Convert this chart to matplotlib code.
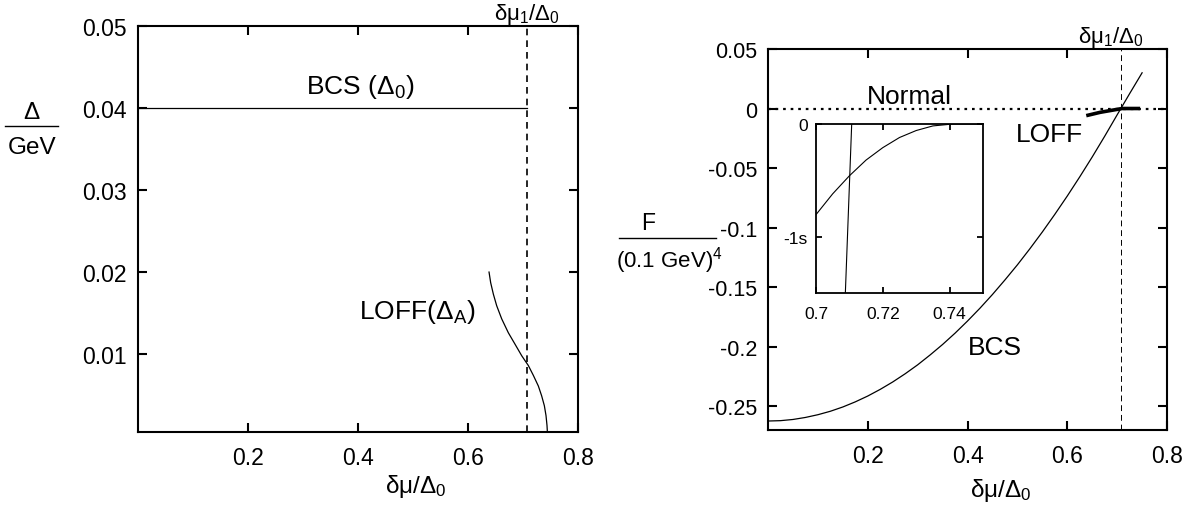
import matplotlib
matplotlib.use("Agg")
import matplotlib.pyplot as plt
from matplotlib.lines import Line2D

plt.rcParams['font.family'] = ['Liberation Sans', 'DejaVu Sans']
plt.rcParams['mathtext.fontset'] = 'custom'
plt.rcParams['mathtext.rm'] = 'Liberation Sans'
plt.rcParams['mathtext.it'] = 'Liberation Sans'

# ---- data ----
dmu1 = 0.707  # delta mu_1 / Delta_0

# left: gaps
bcs_gap_x = [0.0, dmu1]
bcs_gap_y = [0.04, 0.04]
loff_gap_x = [0.6382, 0.6412, 0.6461, 0.6521, 0.6612, 0.6733, 0.6855, 0.6976,
              0.7097, 0.7188, 0.7279, 0.7339, 0.7388, 0.7418, 0.7436, 0.7442]
loff_gap_y = [0.0200, 0.0187, 0.0173, 0.0159, 0.0143, 0.0126, 0.0112, 0.0098,
              0.0086, 0.0074, 0.0061, 0.0049, 0.0037, 0.0025, 0.0013, 0.0006]

# right: free energies
bcs_f_x = [0.0, 0.025, 0.05, 0.075, 0.1, 0.125, 0.15, 0.175, 0.2, 0.225, 0.25,
           0.275, 0.3, 0.325, 0.35, 0.375, 0.4, 0.425, 0.45, 0.475, 0.5, 0.525,
           0.55, 0.575, 0.6, 0.625, 0.65, 0.675, 0.7, 0.725, 0.75]
bcs_f_y = [-0.2625, -0.2622, -0.2612, -0.2595, -0.2572, -0.2543, -0.2507, -0.2464,
           -0.2415, -0.2359, -0.2297, -0.2228, -0.2153, -0.2070, -0.1982, -0.1887,
           -0.1785, -0.1677, -0.1562, -0.1440, -0.1313, -0.1178, -0.1037, -0.0889,
           -0.0735, -0.0574, -0.0407, -0.0233, -0.0053, 0.0125, 0.0300]
loff_f_x = [0.638, 0.666, 0.692, 0.710, 0.746]
loff_f_y = [-0.0060, -0.0032, -0.0013, 0.0, 0.0]

# inset (magnified free energy near delta mu_1)
inset_loff_x = [0.700, 0.705, 0.710, 0.715, 0.720, 0.725, 0.730, 0.735, 0.741, 0.750]
inset_loff_y = [-0.805, -0.62, -0.46, -0.32, -0.21, -0.12, -0.058, -0.017, 0.0, 0.0]
inset_bcs_x = [0.7088, 0.7107]
inset_bcs_y = [-1.5, 0.0]

xticks = [0.2, 0.4, 0.6, 0.8]
left_yticks = [0.01, 0.02, 0.03, 0.04, 0.05]
right_yticks = [-0.25, -0.2, -0.15, -0.1, -0.05, 0.0, 0.05]
right_yticklabels = ['-0.25', '-0.2', '-0.15', '-0.1', '-0.05', '0', '0.05']
inset_xticks = [0.7, 0.72, 0.74]
inset_yticks = [-1, 0]
inset_yticklabels = ['-1s', '0']

TICK_FS = 16.5
LABEL_FS = 19
AXLABEL_FS = 17.5


def style_axes(ax, fs=TICK_FS, ticklen=6.5, lw=1.5, xpad=10, ypad=8):
    for s in ax.spines.values():
        s.set_linewidth(lw)
    ax.tick_params(direction='in', length=ticklen, width=lw, top=True, right=True,
                   labelsize=fs)
    ax.tick_params(axis='x', pad=xpad)
    ax.tick_params(axis='y', pad=ypad)


fig = plt.figure(figsize=(11.95, 5.10), dpi=100)

# ---- left panel ----
axl = fig.add_axes([0.1155, 0.151, 0.3682, 0.796])
axl.plot(bcs_gap_x, bcs_gap_y, color='black', lw=0.9)
axl.plot(loff_gap_x, loff_gap_y, color='black', lw=0.9)
axl.axvline(dmu1, color='black', lw=1.2, ls=(0, (4, 3)))
axl.set_xlim(0, 0.8)
axl.set_ylim(0.0005, 0.05)
axl.set_xticks(xticks)
axl.set_xticklabels([f'{v:g}' for v in xticks])
axl.set_yticks(left_yticks)
axl.set_yticklabels([f'{v:g}' for v in left_yticks])
style_axes(axl)
axl.text(0.404, 0.0427, 'BCS (Δ$_0$)', fontsize=LABEL_FS, ha='center', va='center')
axl.text(0.507, 0.0152, 'LOFF(Δ$_A$)', fontsize=LABEL_FS, ha='center', va='center')
axl.text(dmu1, 1.0, 'δμ$_1$/Δ$_0$', transform=axl.get_xaxis_transform(),
         fontsize=16, ha='center', va='bottom')
axl.text(0.63, -0.133, 'δμ/Δ$_0$', transform=axl.transAxes,
         fontsize=AXLABEL_FS, ha='center', va='center')

# y label as a fraction
fig.text(31 / 1195, 1 - 113 / 510, 'Δ', fontsize=AXLABEL_FS, ha='center', va='center')
fig.add_artist(Line2D([5 / 1195, 58 / 1195], [1 - 127 / 510, 1 - 127 / 510],
                      color='black', lw=1.0))
fig.text(32 / 1195, 1 - 148 / 510, 'GeV', fontsize=AXLABEL_FS, ha='center', va='center')

# ---- right panel ----
axr = fig.add_axes([0.6427, 0.155, 0.3339, 0.747])
axr.axhline(0.0, color='black', lw=1.6, ls=(0, (1.2, 2.2)))
axr.plot(bcs_f_x, bcs_f_y, color='black', lw=0.9)
axr.plot(loff_f_x, loff_f_y, color='black', lw=2.6, solid_capstyle='butt')
axr.axvline(dmu1, color='black', lw=0.7, ls=(0, (6, 4)))
axr.set_xlim(0, 0.8)
axr.set_ylim(-0.27, 0.05)
axr.set_xticks(xticks)
axr.set_xticklabels([f'{v:g}' for v in xticks])
axr.set_yticks(right_yticks)
axr.set_yticklabels(right_yticklabels)
style_axes(axr)
axr.tick_params(axis='y', labelsize=15.5)
axr.text(0.283, 0.0105, 'Normal', fontsize=LABEL_FS, ha='center', va='center')
axr.text(0.565, -0.0214, 'LOFF', fontsize=LABEL_FS, ha='center', va='center')
axr.text(0.455, -0.200, 'BCS', fontsize=LABEL_FS, ha='center', va='center')
axr.text(dmu1 - 0.02, 1.0, 'δμ$_1$/Δ$_0$', transform=axr.get_xaxis_transform(),
         fontsize=16, ha='center', va='bottom')
axr.text(0.584, -0.155, 'δμ/Δ$_0$', transform=axr.transAxes,
         fontsize=AXLABEL_FS, ha='center', va='center')

fig.text(648 / 1195, 1 - 223 / 510, 'F', fontsize=16.5, ha='center', va='center')
fig.add_artist(Line2D([619 / 1195, 716 / 1195], [1 - 239 / 510, 1 - 239 / 510],
                      color='black', lw=1.0))
fig.text(669 / 1195, 1 - 261 / 510, '(0.1 GeV)$^4$', fontsize=16, ha='center', va='center')

# ---- inset ----
axi = fig.add_axes([0.6828, 0.4235, 0.1398, 0.3314])
axi.plot(inset_loff_x, inset_loff_y, color='black', lw=0.8)
axi.plot(inset_bcs_x, inset_bcs_y, color='black', lw=0.8)
axi.set_xlim(0.7, 0.75)
axi.set_ylim(-1.5, 0.0)
axi.set_xticks(inset_xticks)
axi.set_xticklabels([f'{v:g}' for v in inset_xticks])
axi.set_yticks(inset_yticks)
axi.set_yticklabels(inset_yticklabels)
style_axes(axi, fs=12.5, ticklen=4.5, lw=1.3, xpad=9, ypad=6)

fig.savefig('out.png', dpi=100)
